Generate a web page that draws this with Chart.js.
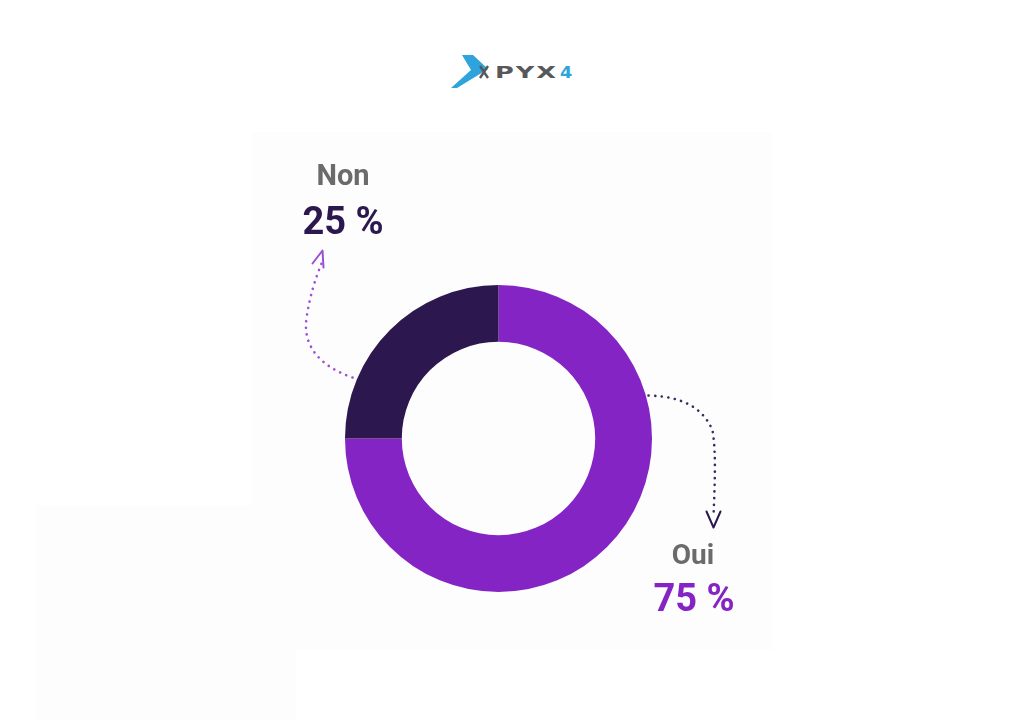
<!DOCTYPE html>
<html>
<head>
<meta charset="utf-8">
<script src="https://cdn.jsdelivr.net/npm/chart.js@4"></script>
<style>
  html, body { margin:0; padding:0; background:#ffffff; }
  body { width:1024px; height:724px; position:relative; overflow:hidden; font-family: Roboto, "Noto Sans", sans-serif; }
  #panel { position:absolute; left:252px; top:132px; width:520px; height:518px; background:#fdfdfd; }
  #panel2 { position:absolute; left:36px; top:505px; width:260px; height:215px; background:#fdfdfd; }
  #c { position:absolute; left:0; top:0; }
  .lbl { position:absolute; font-weight:700; white-space:nowrap; text-align:center; line-height:1; }
  #logo { position:absolute; left:450px; top:50px; width:140px; height:45px; }
  .logoTxt { position:absolute; top:65px; font-family:"DejaVu Sans", sans-serif; font-weight:700; font-size:16px; line-height:16px; transform-origin:left top; white-space:nowrap; }
  #logoText { left:495px; color:#58585a; letter-spacing:1.2px; transform:scaleX(1.6); }
  #logo4 { left:560px; color:#2ea3dc; transform:scaleX(1.1); }
</style>
</head>
<body>
<div id="panel"></div>
<div id="panel2"></div>
<svg id="logo" width="140" height="45" viewBox="450 50 140 45">
  <path d="M462,55 L473,55 L488,69 L457,88 L451,88 L471,70 Z" fill="#2ea3dc"/>
  <path d="M480,66 L488,78 M488,66 L480,78" stroke="#58585a" stroke-width="2.4" fill="none"/>
</svg>
<div class="logoTxt" id="logoText">PYX</div>
<div class="logoTxt" id="logo4">4</div>
<canvas id="c" width="1024" height="724"></canvas>
<div class="lbl" id="nonName" style="left:293px; top:161px; width:100px; font-size:29px; color:#6b6b6b;">Non</div>
<div class="lbl" id="nonVal" style="left:283px; top:202px; width:120px; font-size:38px; color:#2d174f;">25 %</div>
<div class="lbl" id="ouiName" style="left:643px; top:541px; width:100px; font-size:28px; color:#6b6b6b;">Oui</div>
<div class="lbl" id="ouiVal" style="left:634px; top:579px; width:120px; font-size:38px; color:#8424c4;">75 %</div>
<script>
const categories = ["Oui", "Non"];
const values = [75, 25];
const colors = ["#8424c4", "#2d174f"];

const arrowPlugin = {
  id: 'arrows',
  afterDraw(chart) {
    const ctx = chart.ctx;
    const arc = chart.getDatasetMeta(0).data[0];
    const cx = arc.x, cy = arc.y;
    function dotted(pts, color) {
      ctx.save();
      ctx.strokeStyle = color;
      ctx.lineWidth = 2.6;
      ctx.lineCap = 'round';
      ctx.setLineDash([0.1, 6.5]);
      ctx.beginPath();
      ctx.moveTo(cx + pts[0][0], cy + pts[0][1]);
      for (let i = 1; i + 2 < pts.length; i += 3) {
        ctx.bezierCurveTo(cx + pts[i][0], cy + pts[i][1], cx + pts[i+1][0], cy + pts[i+1][1], cx + pts[i+2][0], cy + pts[i+2][1]);
      }
      ctx.stroke();
      ctx.restore();
    }
    function head(p1, tip, p2, color) {
      ctx.save();
      ctx.strokeStyle = color;
      ctx.lineWidth = 2;
      ctx.lineCap = 'round';
      ctx.lineJoin = 'round';
      ctx.beginPath();
      ctx.moveTo(cx + p1[0], cy + p1[1]);
      ctx.lineTo(cx + tip[0], cy + tip[1]);
      ctx.lineTo(cx + p2[0], cy + p2[1]);
      ctx.stroke();
      ctx.restore();
    }
    // Non arrow (relative to the donut centre)
    dotted([[-146,-61], [-178,-72], [-196,-92], [-192,-120], [-189,-142], [-183,-160], [-177,-175]], '#9b4fd8');
    head([-186,-175], [-176,-188], [-175,-171], '#9b4fd8');
    // Oui arrow
    dotted([[150,-43], [185,-42], [205,-30], [214,-8], [218,15], [216,50], [215,78]], '#3a2a5e');
    head([208,73], [215,89], [222,73], '#2d174f');
  }
};

new Chart(document.getElementById('c'), {
  type: 'doughnut',
  data: {
    labels: categories,
    datasets: [{
      data: values,
      backgroundColor: colors,
      borderWidth: 0,
      hoverOffset: 0
    }]
  },
  options: {
    responsive: false,
    animation: false,
    cutout: '63%',
    layout: { padding: { left: 345, right: 372, top: 285, bottom: 132 } },
    plugins: {
      legend: { display: false },
      tooltip: { enabled: false }
    }
  },
  plugins: [arrowPlugin]
});
</script>
</body>
</html>
